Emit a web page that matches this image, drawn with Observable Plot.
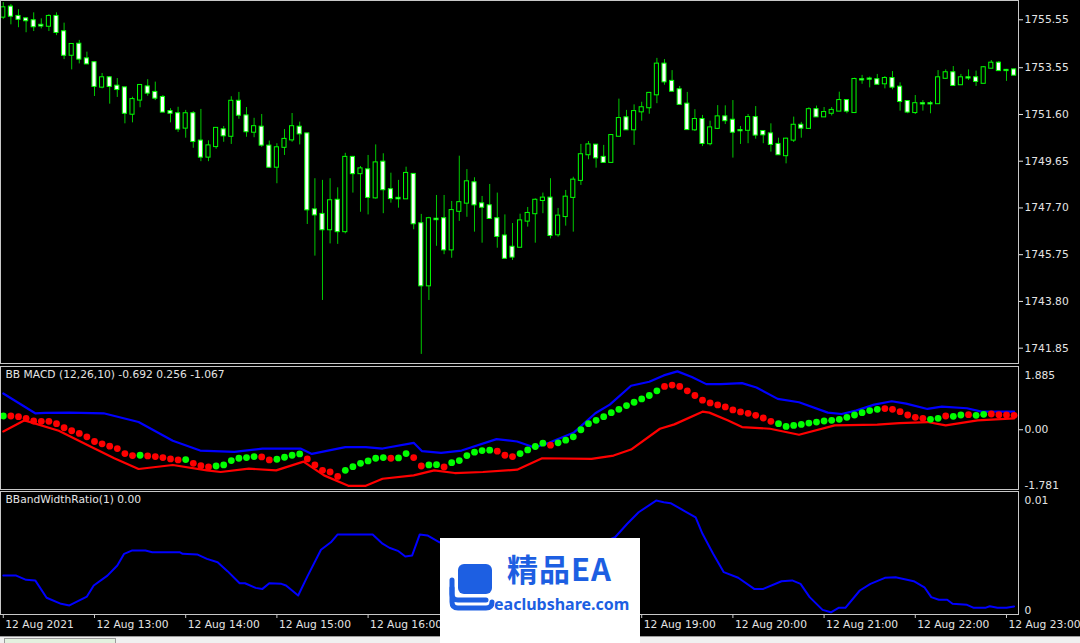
<!DOCTYPE html>
<html><head><meta charset="utf-8">
<script src="https://cdn.jsdelivr.net/npm/d3@7"></script>
<script src="https://cdn.jsdelivr.net/npm/@observablehq/plot@0.6"></script>
<style>
html,body{margin:0;padding:0;background:#000;}
#root{position:relative;width:1080px;height:643px;background:#000;overflow:hidden;font-family:"DejaVu Sans",sans-serif;}
#root svg.panel{position:absolute;left:0;overflow:visible;}
#tabs{position:absolute;left:0;top:636px;width:1080px;height:7px;background:#f0f0f0;border-top:1px solid #9a9a9a;box-sizing:border-box;}
#tab1{position:absolute;left:4px;top:1px;width:112px;height:6px;background:#e3f1df;border:1px solid #9a9a9a;border-bottom:none;box-sizing:border-box;}
#wm{position:absolute;left:440px;top:538px;width:200px;height:105px;background:#fff;}
#wm .cn{position:absolute;left:67px;top:12px;font-family:"Noto Sans CJK SC",sans-serif;font-weight:700;font-size:31px;line-height:36px;color:#1d5fe2;letter-spacing:1px;}
#wm .url{position:absolute;left:54px;top:56px;font-family:"Noto Sans","DejaVu Sans",sans-serif;font-weight:700;font-size:16px;line-height:20px;color:#1d5fe2;}
#wm svg{position:absolute;left:6px;top:20px;}
</style></head><body><div id="root"></div>
<script>
// ---------- Price candles (5-minute bars, 12 Aug 2021 12:00 → 23:05) ----------
const opens = [1755.66,1756.08,1755.69,1755.59,1755.51,1755.32,1755.28,1755.69,1755.05,1754.07,1754.53,1753.92,1753.76,1752.74,1753.13,1752.78,1752.71,1751.61,1752.20,1752.75,1752.52,1752.31,1751.72,1751.63,1751.03,1751.63,1750.49,1749.82,1750.26,1750.96,1750.69,1752.15,1751.54,1750.86,1751.07,1750.28,1749.40,1750.23,1750.54,1751.07,1750.79,1747.62,1747.43,1746.79,1748.02,1746.71,1749.81,1749.13,1749.29,1748.12,1749.61,1748.46,1748.10,1748.08,1749.10,1747.04,1744.45,1747.23,1747.25,1745.95,1747.56,1747.90,1748.75,1747.87,1747.79,1747.25,1746.53,1746.06,1746.06,1747.15,1747.46,1748.01,1748.11,1746.58,1747.34,1748.14,1748.85,1749.92,1750.32,1749.81,1749.60,1750.69,1751.46,1750.96,1751.71,1751.88,1752.42,1753.70,1752.98,1752.63,1752.03,1750.96,1751.39,1750.38,1751.02,1751.50,1751.36,1750.93,1750.94,1751.47,1750.89,1750.79,1750.35,1749.88,1750.53,1751.15,1751.02,1751.80,1751.50,1751.65,1751.74,1752.18,1751.68,1753.05,1753.08,1753.05,1752.88,1753.10,1752.74,1752.14,1751.68,1752.05,1752.05,1752.05,1753.11,1753.34,1752.84,1753.13,1753.13,1752.90,1753.53,1753.74,1753.44,1753.46];
const highs = [1756.27,1756.19,1755.97,1755.63,1755.84,1755.59,1755.76,1755.84,1755.41,1754.52,1754.69,1754.20,1753.81,1753.31,1753.18,1753.10,1752.71,1752.32,1752.85,1753.05,1752.95,1752.39,1751.84,1751.90,1751.77,1751.72,1751.81,1750.50,1751.02,1751.10,1752.34,1752.52,1751.89,1751.44,1751.60,1750.49,1750.38,1750.97,1751.64,1751.28,1750.79,1748.92,1748.85,1748.92,1748.54,1749.98,1749.85,1749.43,1749.89,1750.33,1749.96,1749.15,1748.85,1749.40,1749.10,1747.43,1747.31,1748.22,1748.22,1747.97,1749.86,1749.30,1748.96,1748.18,1748.68,1748.32,1747.41,1747.05,1747.44,1747.72,1748.08,1748.32,1748.92,1747.68,1748.43,1748.98,1750.35,1750.47,1750.32,1750.31,1750.76,1752.24,1751.77,1752.00,1752.11,1752.52,1753.94,1753.89,1753.43,1752.77,1752.52,1751.80,1751.56,1751.32,1751.97,1751.96,1752.18,1751.10,1751.60,1751.93,1750.93,1751.21,1750.61,1750.61,1751.49,1751.27,1751.88,1751.95,1751.89,1751.89,1752.53,1752.18,1753.11,1753.23,1753.16,1753.27,1753.18,1753.39,1752.92,1752.14,1752.39,1752.18,1752.14,1753.43,1753.46,1753.60,1753.27,1753.46,1753.41,1753.60,1753.85,1753.81,1753.48,1753.51];
const lows = [1755.57,1755.34,1755.22,1755.01,1755.06,1755.17,1755.06,1754.89,1753.89,1753.46,1753.71,1753.71,1752.35,1752.67,1752.03,1752.31,1751.21,1751.25,1751.88,1752.36,1752.18,1751.70,1751.25,1750.85,1750.61,1750.19,1749.63,1749.63,1750.15,1750.44,1750.35,1751.40,1750.65,1750.63,1750.23,1749.36,1748.71,1749.89,1750.44,1750.33,1747.01,1745.69,1743.84,1746.20,1746.18,1746.62,1748.32,1747.52,1747.41,1748.07,1747.46,1747.90,1747.69,1748.08,1746.79,1741.59,1743.84,1746.10,1745.75,1745.60,1747.14,1747.31,1746.69,1746.23,1747.26,1746.02,1745.60,1745.51,1746.04,1746.90,1746.23,1747.46,1746.41,1746.48,1746.94,1746.69,1748.64,1749.71,1749.36,1749.57,1749.58,1750.69,1750.96,1750.31,1751.32,1751.61,1752.05,1752.82,1752.57,1752.02,1750.97,1750.89,1750.26,1750.29,1750.97,1751.18,1749.78,1750.35,1750.38,1750.57,1750.38,1750.03,1749.92,1749.54,1750.43,1750.61,1750.99,1751.50,1751.48,1751.54,1751.74,1751.63,1751.65,1752.86,1752.71,1752.86,1752.67,1752.63,1751.74,1751.63,1751.60,1751.74,1751.63,1752.04,1753.07,1752.81,1752.84,1753.02,1752.77,1752.90,1753.53,1753.43,1752.98,1753.24];
const closes = [1756.05,1755.70,1755.57,1755.51,1755.26,1755.29,1755.69,1755.02,1754.07,1754.52,1753.91,1753.71,1752.77,1753.13,1752.77,1752.64,1751.65,1752.22,1752.81,1752.49,1752.28,1751.70,1751.65,1750.99,1751.63,1750.47,1749.82,1750.29,1751.02,1750.71,1752.15,1751.57,1750.88,1751.09,1750.32,1749.40,1750.21,1750.56,1751.09,1750.79,1747.62,1747.41,1746.79,1748.00,1746.71,1749.81,1749.13,1749.33,1748.14,1749.58,1748.46,1748.09,1748.08,1749.14,1747.04,1744.45,1747.25,1747.21,1745.95,1747.59,1747.92,1748.79,1747.83,1747.73,1747.26,1746.51,1745.60,1745.65,1747.16,1747.47,1748.02,1748.11,1746.55,1747.36,1748.15,1748.86,1749.92,1750.33,1749.79,1749.60,1750.72,1751.43,1750.96,1751.72,1751.88,1752.48,1753.70,1752.96,1752.57,1752.02,1750.97,1751.39,1750.39,1751.04,1751.50,1751.34,1750.86,1750.92,1751.47,1750.74,1750.75,1750.35,1749.92,1750.57,1751.15,1751.03,1751.80,1751.50,1751.68,1751.77,1752.18,1751.74,1753.06,1753.04,1753.07,1752.86,1753.10,1752.74,1752.14,1751.70,1752.05,1752.04,1752.04,1753.13,1753.34,1752.81,1753.13,1753.12,1752.98,1753.55,1753.74,1753.43,1753.43,1753.24];
const priceTicks = [1755.55,1753.55,1751.60,1749.65,1747.70,1745.75,1743.80,1741.85];
const priceRange = [1741.21,1756.355];

// ---------- BB MACD (12,26,10) ----------
const macdVals = [0.41,0.41,0.39,0.34,0.26,0.25,0.25,0.18,0.06,-0.03,-0.11,-0.21,-0.35,-0.42,-0.49,-0.56,-0.71,-0.77,-0.76,-0.78,-0.80,-0.83,-0.87,-0.90,-0.89,-1.00,-1.07,-1.11,-1.08,-1.05,-0.92,-0.85,-0.83,-0.80,-0.81,-0.90,-0.88,-0.82,-0.76,-0.72,-0.87,-1.05,-1.21,-1.26,-1.39,-1.21,-1.10,-1.00,-0.93,-0.85,-0.83,-0.85,-0.84,-0.71,-0.83,-1.08,-1.05,-1.04,-1.11,-0.98,-0.92,-0.77,-0.67,-0.62,-0.61,-0.64,-0.76,-0.80,-0.71,-0.60,-0.50,-0.40,-0.46,-0.39,-0.31,-0.21,0.00,0.18,0.28,0.39,0.51,0.61,0.72,0.82,0.92,1.02,1.16,1.29,1.33,1.29,1.16,1.02,0.88,0.80,0.74,0.68,0.59,0.53,0.49,0.43,0.35,0.25,0.18,0.10,0.13,0.16,0.20,0.23,0.26,0.28,0.31,0.37,0.44,0.51,0.57,0.61,0.63,0.61,0.54,0.44,0.37,0.34,0.31,0.34,0.41,0.40,0.44,0.45,0.43,0.46,0.47,0.45,0.44,0.43];
const macdDir = "grrrrrrrrrrrrrrrrrgrrrrrgrrrggggggrrggggrrrrrggggggrggrrggrggggggrrrggggrggggggggggggggrrrrrrrrrrrrrrrggggggggggggggrrrrrrggrggrggrrr".split("");
const upperBar = [0,4.2,5.5,8.7,13.2,17.8,22.3,25.9,30.4,34.1,39.1,40.6,45,47.7,49.9,54,55.1,57.6,60.3,64.9,67.6,69.9,71.8,75.1,77.9,79.8,82.6,85,86.9,88.7,90.6,92.5,94.4,97.2,99.1,101.9,104.7,108.5,110.3,112.2,114.6,116.9,118.8,121.6,123.5,126.8,128.7,133];
const upperVals = [1.08,0.49,0.50,0.51,0.49,0.23,-0.33,-0.62,-0.66,-0.56,-0.56,-0.72,-0.52,-0.52,-0.56,-0.39,-0.64,-0.69,-0.62,-0.28,-0.35,-0.53,-0.39,-0.08,0.49,0.75,1.31,1.43,1.62,1.74,1.57,1.36,1.36,1.39,1.26,0.92,0.82,0.51,0.47,0.57,0.75,0.85,0.78,0.62,0.69,0.64,0.54,0.54];
const lowerBar = [0,2.8,7.3,11.4,14.6,17.8,22.3,26.8,28.6,32.3,35.9,39.5,42.2,45.4,47.7,49.9,54,56.7,59.4,63.1,67.6,70.9,77.4,80.3,82.6,86.4,88.3,92,92.9,95.3,97.2,100.9,104.7,109.4,115,117.9,121.6,124,128.2,133];
const lowerVals = [-0.05,0.28,-0.03,-0.49,-0.85,-1.17,-1.05,-1.21,-1.26,-1.16,-1.21,-0.95,-1.36,-1.67,-1.67,-1.46,-1.36,-1.21,-1.29,-1.26,-1.19,-0.85,-0.87,-0.77,-0.59,0.03,0.16,0.54,0.51,0.28,0.08,0.03,-0.15,0.13,0.15,0.20,0.23,0.13,0.28,0.34];
const macdRange = [-1.781,1.885];
const macdTitle = "BB MACD (12,26,10) -0.692 0.256 -1.067";

// ---------- BBandWidthRatio(1) ----------
const bbwBar = [0,1.7,3,4.2,5.7,7.6,8.7,11,11.9,13.7,15,15.9,16.9,18.7,19.6,23.2,23.6,25.5,26.8,28.2,29.5,31.1,31.8,33.2,34.1,35,36.6,37.2,38.8,40,41.8,43.1,44,48.6,49.9,50.8,52,52.9,53.8,54.8,55.8,57.4,61,66,71,76,79,80.5,82.1,83.6,85.9,86.9,87.8,89.7,91.1,92,93.4,94.8,96.7,98.8,100,102.4,103.8,104.9,106.1,107.8,108.9,109.9,110.8,112.7,114.1,116,117.4,119.8,121.2,122.1,123.1,124.2,124.9,126.8,127.7,129.2,129.8,130.8,132,133];
const bbwVals = [0.00193,0.00193,0.00172,0.00169,0.00083,0.00053,0.00045,0.00089,0.00144,0.00193,0.00243,0.00301,0.00317,0.00317,0.00309,0.00309,0.00301,0.00298,0.00276,0.00259,0.00215,0.00155,0.00155,0.00132,0.00127,0.00155,0.00152,0.00144,0.00094,0.00188,0.00321,0.00358,0.00397,0.00397,0.00351,0.00331,0.00314,0.00288,0.00293,0.00397,0.00392,0.00358,0.0031,0.0026,0.0027,0.0032,0.0036,0.00383,0.00450,0.00507,0.00565,0.00557,0.00552,0.00512,0.00482,0.00400,0.00301,0.00210,0.00182,0.00127,0.00127,0.00165,0.00169,0.00152,0.00086,0.00023,0.00011,0.00033,0.00033,0.00119,0.00152,0.00182,0.00185,0.00165,0.00135,0.00086,0.00073,0.00073,0.00053,0.00048,0.00033,0.00033,0.00041,0.00033,0.00033,0.00040];
const bbwRange = [0,0.0061];
const bbwTitle = "BBandWidthRatio(1) 0.00";
const bbwTopLabel = "0.01", bbwBottomLabel = "0";

// ---------- Time axis ----------
const timeTickBar = [0,12,24,36,48,60,72,84,96,108,120,132];
const timeTickLabels = ["12 Aug 2021","12 Aug 13:00","12 Aug 14:00","12 Aug 15:00","12 Aug 16:00","12 Aug 17:00","12 Aug 18:00","12 Aug 19:00","12 Aug 20:00","12 Aug 21:00","12 Aug 22:00","12 Aug 23:00"];

// ---------- drawing ----------
const W = 1080, MR = 62;
const xDomain = [-0.368, 133.58];
const FG = "#e4e4e4";
const FRAME = "#c8c8c8";
const baseStyle = {background: "transparent", color: FG, fontFamily: "DejaVu Sans, sans-serif", fontSize: "10.7px", overflow: "visible"};
const root = document.getElementById("root");
function place(svg, top) { svg.classList.add("panel"); svg.style.top = top + "px"; root.appendChild(svg); }

const candles = opens.map((o, i) => ({i, o, h: highs[i], l: lows[i], c: closes[i]}));
const mainPlot = Plot.plot({
  width: W, height: 364, marginTop: 0, marginBottom: 1, marginLeft: 0, marginRight: MR,
  style: baseStyle,
  x: {domain: xDomain, axis: null},
  y: {domain: priceRange, axis: null},
  marks: [
    Plot.ruleX(candles, {x: "i", y1: "l", y2: "h", stroke: "#00c800", strokeWidth: 1}),
    Plot.rect(candles, {x1: d => d.i - 0.27, x2: d => d.i + 0.27, y1: "o", y2: "c", insetTop: -0.5, insetBottom: -0.5,
      fill: d => d.c < d.o ? "#ffffff" : "#000000", stroke: "#00ff00", strokeWidth: 1}),
    Plot.axisY(priceTicks, {anchor: "right", tickSize: 4, tickPadding: 2, label: null, tickFormat: d => d.toFixed(2)}),
    Plot.frame({stroke: FRAME})
  ]
});
place(mainPlot, 0);

const macdData = macdVals.map((v, i) => ({i, v, up: macdDir[i] === "g"}));
const upperData = upperBar.map((b, k) => ({b, v: upperVals[k]}));
const lowerData = lowerBar.map((b, k) => ({b, v: lowerVals[k]}));
const macdPlot = Plot.plot({
  width: W, height: 123, marginTop: 0, marginBottom: 0, marginLeft: 0, marginRight: MR,
  style: baseStyle,
  x: {domain: xDomain, axis: null},
  y: {domain: macdRange, axis: null},
  marks: [
    Plot.line(upperData, {x: "b", y: "v", stroke: "#0000ff", strokeWidth: 2.2, clip: true}),
    Plot.line(lowerData, {x: "b", y: "v", stroke: "#ff0000", strokeWidth: 2.2, clip: true}),
    Plot.dot(macdData, {x: "i", y: "v", r: 3.4, fill: d => d.up ? "#00ff00" : "#ff0000", clip: true}),
    Plot.axisY([0], {anchor: "right", tickSize: 4, tickPadding: 2, label: null, tickFormat: d => d.toFixed(2)}),
    Plot.text([macdRange[1]], {y: d => d, frameAnchor: "right", dx: 6, dy: 5, textAnchor: "start", lineAnchor: "top", text: d => d.toFixed(3), fill: FG}),
    Plot.text([macdRange[0]], {y: d => d, frameAnchor: "right", dx: 6, dy: -1, textAnchor: "start", lineAnchor: "bottom", text: d => d.toFixed(3), fill: FG}),
    Plot.text([macdTitle], {frameAnchor: "top-left", dx: 5, dy: 4, textAnchor: "start", lineAnchor: "top", fill: FG}),
    Plot.frame({stroke: FRAME})
  ]
});
place(macdPlot, 366);

const bbwData = bbwBar.map((b, k) => ({b, v: bbwVals[k]}));
const timeTicks = timeTickBar.map((b, k) => ({b, label: timeTickLabels[k]}));
const bbwPlot = Plot.plot({
  width: W, height: 152, marginTop: 0, marginBottom: 29, marginLeft: 0, marginRight: MR,
  style: baseStyle,
  x: {domain: xDomain, axis: null},
  y: {domain: bbwRange, axis: null},
  marks: [
    Plot.line(bbwData, {x: "b", y: "v", stroke: "#0000ff", strokeWidth: 2, clip: true}),
    Plot.text([bbwRange[1]], {y: d => d, frameAnchor: "right", dx: 6, dy: 5, textAnchor: "start", lineAnchor: "top", text: () => bbwTopLabel, fill: FG}),
    Plot.text([bbwRange[0]], {y: d => d, frameAnchor: "right", dx: 6, dy: -1, textAnchor: "start", lineAnchor: "bottom", text: () => bbwBottomLabel, fill: FG}),
    Plot.text([bbwTitle], {frameAnchor: "top-left", dx: 5, dy: 4, textAnchor: "start", lineAnchor: "top", fill: FG}),
    Plot.axisX(timeTickBar, {anchor: "bottom", tickSize: 4, label: null, tickFormat: () => "", stroke: FRAME}),
    Plot.text(timeTicks, {x: "b", text: "label", frameAnchor: "bottom", dx: 2, dy: 13, textAnchor: "start", fill: FG}),
    Plot.frame({stroke: FRAME})
  ]
});
place(bbwPlot, 491);

// bottom tab strip
const tabs = document.createElement("div"); tabs.id = "tabs";
const tab1 = document.createElement("div"); tab1.id = "tab1"; tabs.appendChild(tab1);
root.appendChild(tabs);

// watermark box present on the picture
const wm = document.createElement("div"); wm.id = "wm";
wm.innerHTML = `<svg width="56" height="56" viewBox="0 0 56 56">
  <path d="M6 30 L6 44 Q6 50 12 50 L40 50 Q46 50 46 44" fill="none" stroke="#1d5fe2" stroke-width="5" stroke-linecap="round"/>
  <path d="M6 22 L6 36 Q6 42 12 42 L40 42" fill="none" stroke="#1d5fe2" stroke-width="5" stroke-linecap="round"/>
  <rect x="12" y="6" width="34" height="30" rx="6" fill="#1d5fe2"/>
</svg><div class="cn">精品EA</div><div class="url">eaclubshare.com</div>`;
root.appendChild(wm);
</script></body></html>
